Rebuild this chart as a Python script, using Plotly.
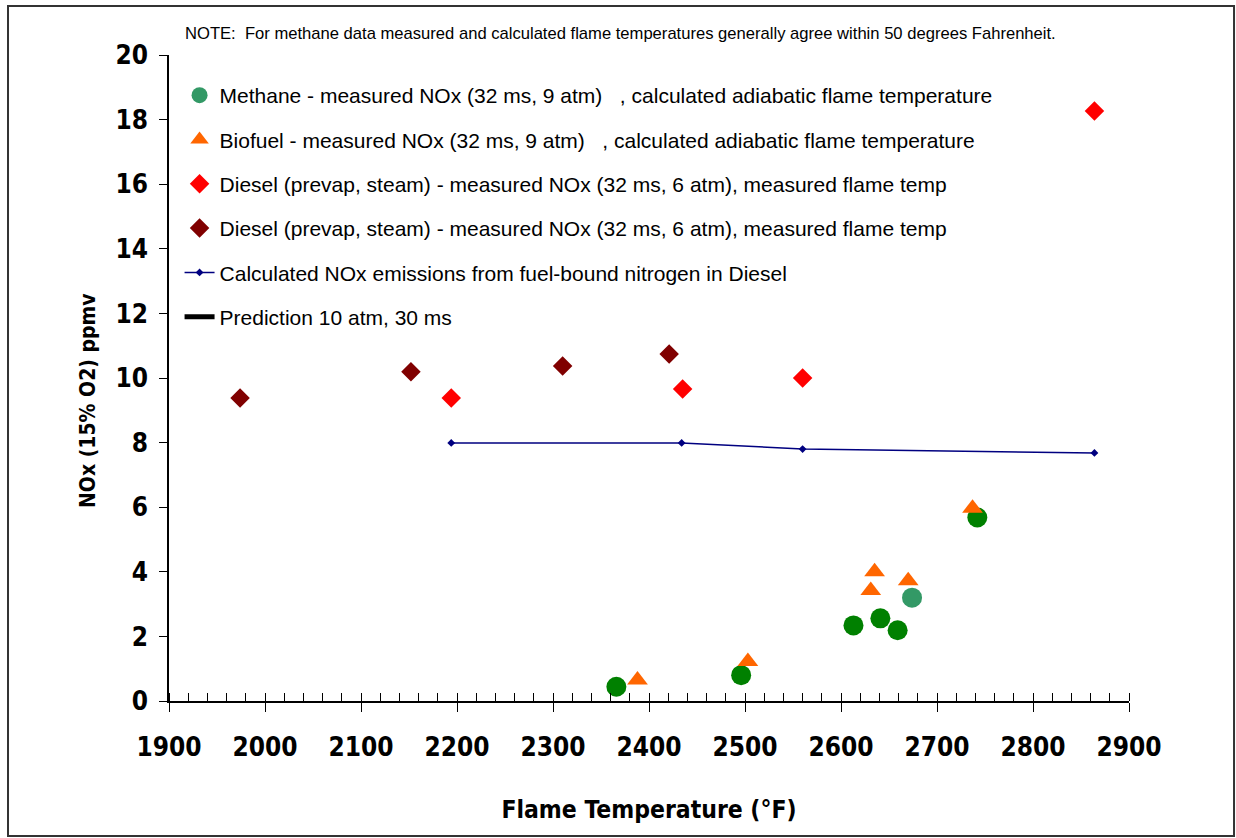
import plotly.graph_objects as go

# ---------------- data ----------------
methane_teal_x = [2674]
methane_teal_y = [3.2]
methane_green_x = [2366, 2496, 2613, 2641, 2659, 2742]
methane_green_y = [0.44, 0.80, 2.34, 2.56, 2.19, 5.68]

biofuel_x = [2388, 2503, 2631, 2635, 2670, 2737]
biofuel_y = [0.65, 1.22, 3.42, 4.00, 3.72, 5.97]

diesel_red_x = [2194, 2435, 2560, 2864]
diesel_red_y = [9.38, 9.66, 10.0, 18.27]

diesel_dark_x = [1974, 2152, 2310, 2421]
diesel_dark_y = [9.38, 10.19, 10.37, 10.74]

calc_x = [2194, 2434, 2560, 2864]
calc_y = [7.99, 7.99, 7.80, 7.68]

# prediction series has no points inside the plotted range
pred_x = [None]
pred_y = [None]

x_ticks = [1900, 2000, 2100, 2200, 2300, 2400, 2500, 2600, 2700, 2800, 2900]
y_ticks = [0, 2, 4, 6, 8, 10, 12, 14, 16, 18, 20]

# ---------------- figure ----------------
fig = go.Figure()

fig.add_trace(go.Scatter(
    x=methane_teal_x, y=methane_teal_y, mode="markers",
    name="Methane - measured NOx (32 ms, 9 atm)   , calculated adiabatic flame temperature",
    marker=dict(symbol="circle", size=20, color="#339966"),
    legendgroup="g1"))
fig.add_trace(go.Scatter(
    x=methane_green_x, y=methane_green_y, mode="markers", showlegend=False,
    name="Methane", marker=dict(symbol="circle", size=20, color="#008000"),
    legendgroup="g1"))
fig.add_trace(go.Scatter(
    x=biofuel_x, y=biofuel_y, mode="markers",
    name="Biofuel - measured NOx (32 ms, 9 atm)   , calculated adiabatic flame temperature",
    marker=dict(symbol="triangle-up", size=18, color="#FF6600"),
    legendgroup="g2"))
fig.add_trace(go.Scatter(
    x=diesel_red_x, y=diesel_red_y, mode="markers",
    name="Diesel (prevap, steam) - measured NOx (32 ms, 6 atm), measured flame temp",
    marker=dict(symbol="diamond", size=15, color="#FF0000"),
    legendgroup="g3"))
fig.add_trace(go.Scatter(
    x=diesel_dark_x, y=diesel_dark_y, mode="markers",
    name="Diesel (prevap, steam) - measured NOx (32 ms, 6 atm), measured flame temp",
    marker=dict(symbol="diamond", size=15, color="#800000"),
    legendgroup="g4"))
fig.add_trace(go.Scatter(
    x=calc_x, y=calc_y, mode="lines+markers",
    name="Calculated NOx emissions from fuel-bound nitrogen in Diesel",
    line=dict(color="#000080", width=1.5),
    marker=dict(symbol="diamond", size=6, color="#000080"),
    legendgroup="g5"))
fig.add_trace(go.Scatter(
    x=pred_x, y=pred_y, mode="lines",
    name="Prediction 10 atm, 30 ms",
    line=dict(color="#000000", width=5),
    legendgroup="g6"))

FAM = "DejaVu Sans Condensed, Roboto, Liberation Sans"
tick_font = dict(family=FAM, size=26, color="#000000")
title_font = dict(family=FAM, size=24.5, color="#000000")

fig.update_layout(
    width=1236, height=838,
    margin=dict(l=169, r=107, t=55, b=137),
    paper_bgcolor="white", plot_bgcolor="white",
    font=dict(family="Liberation Sans", color="#000000"),
    showlegend=True,
    legend=dict(
        x=0.011, y=0.969, xanchor="left", yanchor="top",
        bgcolor="rgba(255,255,255,0)",
        font=dict(family="Liberation Sans", size=21, color="#000000"),
        traceorder="grouped", tracegroupgap=14, itemsizing="trace"),
    xaxis=dict(
        range=[1900, 2900], tickmode="array", tickvals=x_ticks,
        ticktext=[f"<b>{v}</b>" for v in x_ticks],
        showgrid=False, zeroline=False,
        showline=True, linecolor="#000000", linewidth=1.5,
        ticks="outside", ticklen=9, tickwidth=1.2, tickcolor="#000000",
        minor=dict(dtick=20, ticks="inside", ticklen=8, tickwidth=1, tickcolor="#000000", showgrid=False),
        tickfont=tick_font, ticklabelstandoff=13,
        title=dict(text="<b>Flame Temperature (°F)</b>", font=title_font, standoff=40)),
    yaxis=dict(
        range=[0, 20], tickmode="array", tickvals=y_ticks,
        ticktext=[f"<b>{v}</b>" for v in y_ticks],
        showgrid=False, zeroline=False,
        showline=True, linecolor="#000000", linewidth=1.5,
        ticks="outside", ticklen=8, tickwidth=1.2, tickcolor="#000000",
        tickfont=tick_font, ticklabelstandoff=6),
    annotations=[
        dict(text="NOTE:  For methane data measured and calculated flame temperatures generally agree within 50 degrees Fahrenheit.",
             xref="paper", yref="paper", x=0.47, y=1.034, xanchor="center", yanchor="middle",
             showarrow=False, font=dict(family="Liberation Sans", size=16.6, color="#000000")),
        dict(text="<b>NOx (15% O2) ppmv</b>", textangle=-90,
             xref="paper", yref="paper", x=-0.0844, y=0.466, xanchor="center", yanchor="middle",
             showarrow=False, font=dict(family=FAM, size=21, color="#000000")),
    ],
    shapes=[dict(type="rect", xref="paper", yref="paper",
                 x0=-0.1677, x1=1.1094, y0=-0.209, y1=1.0759,
                 line=dict(color="#333333", width=2), fillcolor="rgba(0,0,0,0)", layer="below")],
)

fig.write_html("out.html")
